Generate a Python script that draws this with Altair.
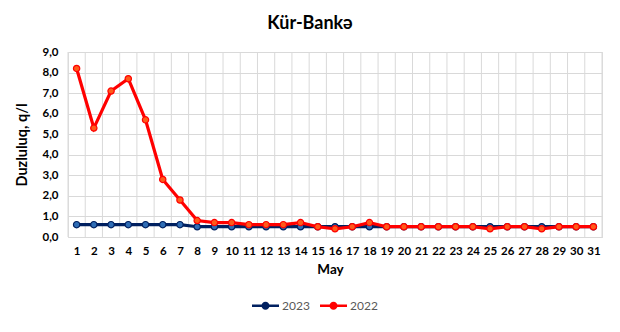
import altair as alt
import pandas as pd

days = list(range(1, 32))
series_names = ["2023", "2022"]
v2023 = [0.6, 0.6, 0.6, 0.6, 0.6, 0.6, 0.6, 0.5, 0.5, 0.5,
         0.5, 0.5, 0.5, 0.5, 0.5, 0.5, 0.5, 0.5, 0.5, 0.5,
         0.5, 0.5, 0.5, 0.5, 0.5, 0.5, 0.5, 0.5, 0.5, 0.5, 0.5]
v2022 = [8.2, 5.3, 7.1, 7.7, 5.7, 2.8, 1.8, 0.8, 0.7, 0.7,
         0.6, 0.6, 0.6, 0.7, 0.5, 0.4, 0.5, 0.7, 0.5, 0.5,
         0.5, 0.5, 0.5, 0.5, 0.4, 0.5, 0.5, 0.4, 0.5, 0.5, 0.5]
y_ticks = [0, 1, 2, 3, 4, 5, 6, 7, 8, 9]

line_colors = ["#002060", "#FF0000"]
marker_fill = {"2023": "#2F6DB5", "2022": "#FF5A1A"}

df = pd.DataFrame({
    "day": days * 2,
    "value": v2023 + v2022,
    "year": ["2023"] * len(days) + ["2022"] * len(days),
})
# category boundaries for the vertical gridlines
grid_df = pd.DataFrame({"day": [d - 0.5 for d in days] + [days[-1] + 0.5]})

FONT = "Lato"

xscale = alt.Scale(domain=[0.5, 31.5], nice=False, zero=False)
yscale = alt.Scale(domain=[0, 9], nice=False)

x_axis = alt.Axis(
    values=days, grid=False, title="May", ticks=False, domainColor="#D9D9D9",
    labelFont=FONT, labelFontSize=11.5, labelFontWeight="bold", labelColor="#000000",
    labelPadding=8, labelFlush=False, labelOverlap=False,
    titleFont=FONT, titleFontSize=13.5, titleFontWeight="bold", titleColor="#000000",
    titlePadding=6, titleX=262)
x_main = alt.X("day:Q", scale=xscale, axis=x_axis)
y_main = alt.Y("value:Q", scale=yscale, axis=alt.Axis(
    values=y_ticks, grid=True, gridColor="#D9D9D9", domain=False, ticks=False,
    labelExpr="replace(format(datum.value, '.1f'), '.', ',')",
    labelOverlap=False,
    labelFont=FONT, labelFontSize=11.5, labelFontWeight="bold", labelColor="#000000",
    labelPadding=10, title="Duzluluq, q/l",
    titleFont=FONT, titleFontSize=14.5, titleFontWeight="bold", titleColor="#000000",
    titlePadding=12))

line_scale = alt.Scale(domain=series_names, range=line_colors)

grid_layer = alt.Chart(grid_df).mark_rule(color="#D9D9D9", strokeWidth=1).encode(
    x=x_main)

# hidden layer that only carries the legend (filled symbols)
legend_layer = alt.Chart(df).mark_point(filled=True, opacity=0).encode(
    x=x_main, y=y_main,
    color=alt.Color("year:N", scale=line_scale, sort=series_names,
                    legend=alt.Legend(
                        title=None, orient="none", direction="horizontal",
                        legendX=184, legendY=240,
                        symbolType="M-1,-0.1L1,-0.1L1,0.1L-1,0.1Z M0.3,0A0.3,0.3 0 1,1 -0.3,0A0.3,0.3 0 1,1 0.3,0Z",
                        symbolSize=729, symbolStrokeWidth=0, symbolOpacity=1,
                        labelFont=FONT, labelFontSize=12, labelColor="#595959",
                        labelOffset=3, columnPadding=10)),
)

layers = [grid_layer, legend_layer]
for name in series_names:
    sub = df[df["year"] == name]
    line = alt.Chart(sub).mark_line(strokeWidth=3.2).encode(
        x=x_main, y=y_main,
        stroke=alt.Stroke("year:N", scale=line_scale, legend=None))
    pts = alt.Chart(sub).mark_point(filled=True, size=40, fill=marker_fill[name],
                                    stroke=line_colors[series_names.index(name)],
                                    strokeWidth=1.2, opacity=1).encode(x=x_main, y=y_main)
    layers += [line, pts]

chart = alt.layer(*layers).properties(
    width=534, height=185,
    title=alt.TitleParams("Kür-Bankə", font=FONT, fontSize=18, fontWeight="bold",
                          color="#000000", anchor="middle", dx=-25, offset=13),
    autosize=alt.AutoSizeParams(type="none"),
    padding={"left": 68, "top": 52, "right": 18, "bottom": 95},
).configure_view(stroke="#D9D9D9").configure(background="white")

chart.save("out.html", embed_options={"renderer": "svg", "actions": False})
